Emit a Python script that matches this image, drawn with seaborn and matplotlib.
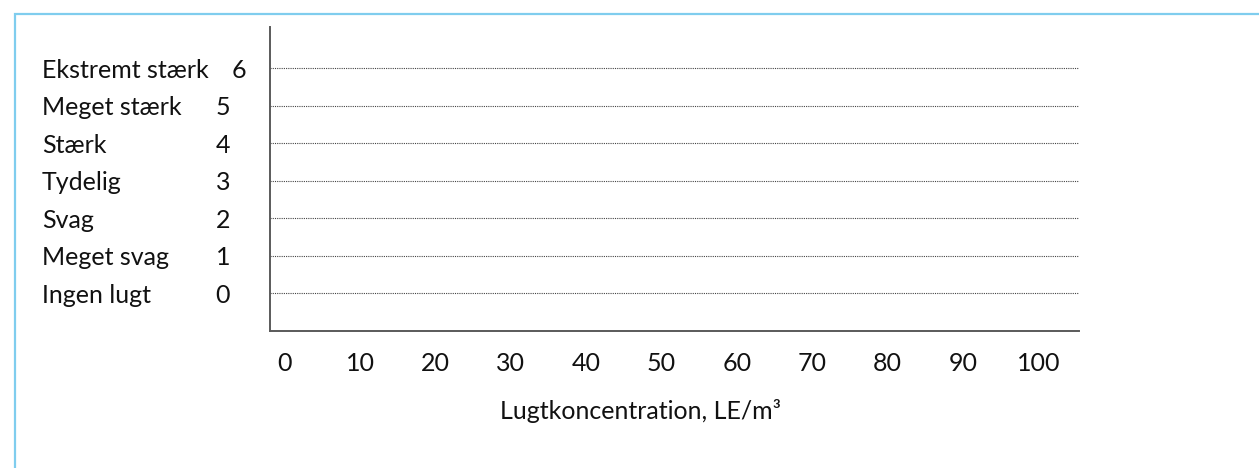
import matplotlib
matplotlib.use("Agg")
import matplotlib.pyplot as plt
import matplotlib.transforms as mtransforms
from matplotlib.patches import Rectangle
import seaborn as sns

# odour intensity scale (Danish)
levels = [0, 1, 2, 3, 4, 5, 6]
level_names = ["Ingen lugt", "Meget svag", "Svag", "Tydelig", "Stærk",
               "Meget stærk", "Ekstremt stærk"]
x_ticks = [0, 10, 20, 30, 40, 50, 60, 70, 80, 90, 100]
x_label = "Lugtkoncentration, LE/m³"

sns.set_style("white")
plt.rcParams["font.family"] = ["Lato", "DejaVu Sans"]
FS = 18

fig = plt.figure(figsize=(12.59, 4.68), dpi=100)
ax = fig.add_axes([270 / 1259, 1 - 331 / 468, (1079 - 270) / 1259, (331 - 27) / 468])

ax.set_xlim(-1.94, 105.4)
ax.set_ylim(-1.0, 7.1)

ax.set_xticks(x_ticks)
ax.set_xticklabels([str(v) for v in x_ticks], fontsize=FS, color="#111111")
ax.set_yticks(levels)
ax.set_yticklabels([str(v) for v in levels], fontsize=FS, color="#111111")
ax.tick_params(axis="both", length=0)
ax.tick_params(axis="x", pad=15)
ax.tick_params(axis="y", pad=34)
for lab in ax.get_yticklabels():
    lab.set_horizontalalignment("center")
# the top number sits a bit further right, after the long label
top = ax.get_yticklabels()[-1]
top.set_transform(top.get_transform()
                  + mtransforms.ScaledTranslation(16 / 100, 0, fig.dpi_scale_trans))

ax.yaxis.grid(True, linestyle=(0, (1, 1)), color="#444444", linewidth=0.8)
ax.xaxis.grid(False)

sns.despine(ax=ax)
for side in ["left", "bottom"]:
    ax.spines[side].set_color("#5a5a5a")
    ax.spines[side].set_linewidth(1.4)

# category names to the left of the numbers
trans = mtransforms.blended_transform_factory(fig.transFigure, ax.transData)
for lvl, name in zip(levels, level_names):
    ax.text(42 / 1259, lvl, name, transform=trans, ha="left",
            va="center_baseline", fontsize=FS, color="#111111")

ax.set_xlabel(x_label, fontsize=FS, color="#111111")
ax.xaxis.set_label_coords((640 - 270) / 809, -(411 - 331) / 304)
ax.xaxis.label.set_verticalalignment("center")

# light blue frame around the figure
fig.patches.append(Rectangle((15 / 1259, -0.05), 1.1, 1 - 14 / 468 + 0.05,
                             transform=fig.transFigure, fill=False,
                             edgecolor="#7fcdee", linewidth=1.6))

fig.savefig("out.png", dpi=100)
